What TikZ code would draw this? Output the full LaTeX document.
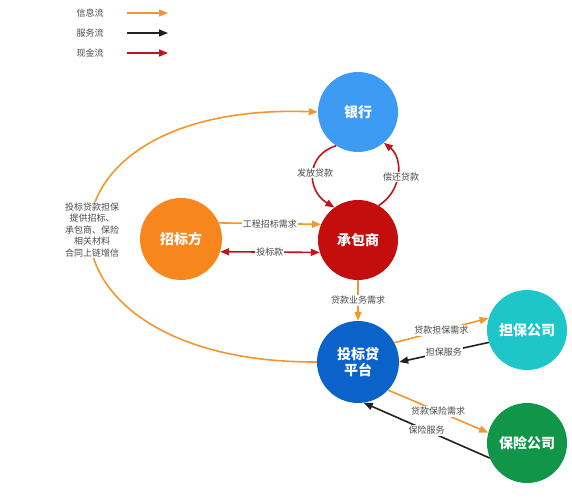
\documentclass[tikz,border=0pt]{standalone}
\usepackage{fontspec}
\setmainfont{Noto Sans CJK SC}
\usetikzlibrary{arrows.meta}
\definecolor{cBank}{HTML}{3D9BF3}
\definecolor{cCon}{HTML}{C40D0D}
\definecolor{cZb}{HTML}{F7861C}
\definecolor{cPlat}{HTML}{0B62C9}
\definecolor{cDb}{HTML}{1EC6CA}
\definecolor{cBx}{HTML}{119548}
\definecolor{fInfo}{HTML}{F29730}
\definecolor{fServ}{HTML}{222222}
\definecolor{fCash}{HTML}{C0141C}
\definecolor{txt}{HTML}{4A4A4A}
\begin{document}
\begin{tikzpicture}[x=1pt,y=-1pt,
  ent/.style={circle,minimum size=#1,inner sep=0pt,text=white,font=\fontsize{14}{16}\selectfont\bfseries,align=center},
  lbl/.style={fill=white,inner sep=1pt,text=txt,font=\fontsize{9}{11.5}\selectfont,align=center},
  lgd/.style={text=txt,font=\fontsize{9}{11}\selectfont},
  flow/.style={line width=1.6pt,-{Triangle[length=9pt,width=7pt]}},
  info/.style={flow,draw=fInfo},
  serv/.style={flow,draw=fServ},
  cash/.style={flow,draw=fCash}]
\useasboundingbox (0,0) rectangle (572,500);
% legend
\node[lgd] (l1) at (90,13) {信息流};
\node[lgd] (l2) at (90,33) {服务流};
\node[lgd] (l3) at (90,53) {现金流};
\coordinate (a1s) at (127,13); \coordinate (a1e) at (168,13);
\coordinate (a2s) at (127,33); \coordinate (a2e) at (168,33);
\coordinate (a3s) at (127,53); \coordinate (a3e) at (168,53);
\draw[info] (a1s) -- (a1e);
\draw[serv] (a2s) -- (a2e);
\draw[cash] (a3s) -- (a3e);
% entities
\node[ent=80pt,fill=cBank] (bank) at (358,112) {银行};
\node[ent=80pt,fill=cCon] (con) at (358,240) {承包商};
\node[ent=82pt,fill=cZb] (zb) at (181,239) {招标方};
\node[ent=82pt,fill=cPlat] (plat) at (358,362) {投标贷\\平台};
\node[ent=80pt,fill=cDb] (db) at (527,330) {担保公司};
\node[ent=80pt,fill=cBx] (bx) at (527,443) {保险公司};
% flows
\draw[info] (zb.23) -- node[lbl]{工程招标需求} (con.157);
\draw[cash,{Triangle[length=9pt,width=7pt]}-{Triangle[length=9pt,width=7pt]}] (zb.-18) -- node[lbl]{投标款} (con.198);
\draw[cash] (bank.237) .. controls (306,155) and (306,190) .. (con.126);
\node[lbl] (ffdk) at (315,173) {发放贷款};
\draw[cash] (con.59) .. controls (403,190) and (403,158) .. (bank.-50);
\node[lbl] (chdk) at (401,177) {偿还贷款};
\draw[info] (con.south) -- node[lbl]{贷款业务需求} (plat.north);
\draw[info] (plat.28) -- node[lbl]{贷款担保需求} (db.163);
\draw[serv] (db.198) -- node[lbl]{担保服务} (plat.0);
\draw[info] (plat.-43) -- node[lbl]{贷款保险需求} (bx.165);
\draw[serv] (bx.202) -- node[lbl]{保险服务} (plat.-82);
\draw[info] (plat.west) .. controls (15,363) and (15,101) .. (bank.west);
\node[lbl] (chain) at (92,230) {投标贷款担保\\提供招标、\\承包商、保险\\相关材料\\合同上链增信};
\end{tikzpicture}
\end{document}
